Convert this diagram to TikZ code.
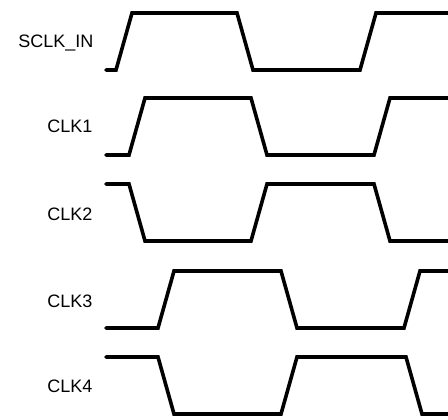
\documentclass[tikz,border=0pt]{standalone}
\usepackage{fontspec}
\setmainfont{Liberation Sans}
\begin{document}
\begin{tikzpicture}[x=1pt,y=-1pt,
  wave/.style={line width=3.6pt,line join=miter,line cap=round},
  lbl/.style={anchor=base east,inner sep=0pt,font=\fontsize{18}{20}\selectfont}]
\useasboundingbox (0,0) rectangle (448,420);
\begin{scope}
\clip (0,0) rectangle (448,420);
\node[lbl] (lsclk) at (93.5,48) {SCLK\_IN};
\node[lbl] (lclk1) at (92.5,133) {CLK1};
\node[lbl] (lclk2) at (92.5,220) {CLK2};
\node[lbl] (lclk3) at (92.5,307) {CLK3};
\node[lbl] (lclk4) at (92.5,392) {CLK4};
\draw[wave] (106,70) -- (116,70) -- (132,13) -- (237,13) -- (253,70) -- (360,70) -- (376,13) -- (452,13);
\draw[wave] (106,155) -- (129,155) -- (145,98) -- (251,98) -- (267,155) -- (374,155) -- (390,98) -- (452,98);
\draw[wave] (106,184) -- (129,184) -- (145,241) -- (251,241) -- (267,184) -- (374,184) -- (390,241) -- (452,241);
\draw[wave] (106,328) -- (158,328) -- (174,271) -- (281,271) -- (297,328) -- (404,328) -- (420,271) -- (452,271);
\draw[wave] (106,357) -- (158,357) -- (174,414) -- (281,414) -- (297,357) -- (406,357) -- (422,414) -- (452,414);
\end{scope}
\end{tikzpicture}
\end{document}
